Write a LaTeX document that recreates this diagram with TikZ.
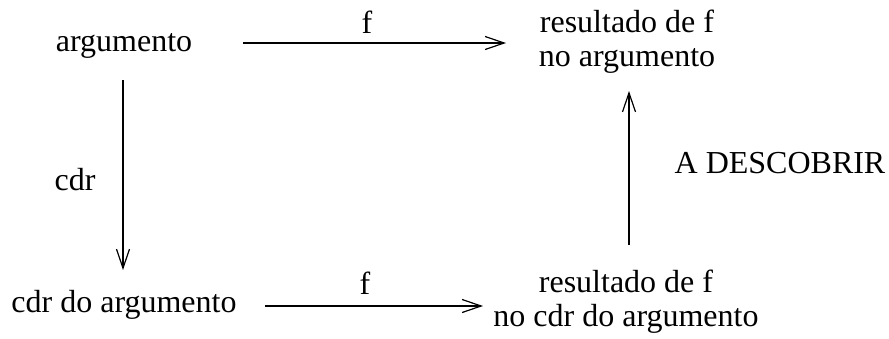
\documentclass[tikz,border=0pt]{standalone}
\usepackage{fontspec}
\setmainfont{Liberation Serif}
\usetikzlibrary{arrows.meta}
\begin{document}
\begin{tikzpicture}[x=1pt,y=-1pt,
  lbl/.style={font=\fontsize{32}{34}\selectfont, inner sep=0pt, align=center},
  arr/.style={line width=1.2pt, -{Straight Barb[length=19pt,width=13pt,line width=1.2pt]}}]
\useasboundingbox (0,0) rectangle (889,338);
\node[lbl] (a) at (124,46) {argumento};
\node[lbl] (ra) at (627,42) {resultado de f\\no argumento};
\node[lbl] (ca) at (124,305) {cdr do argumento};
\node[lbl] (rc) at (626,302) {resultado de f\\no cdr do argumento};
\node[lbl] (f1) at (367,22) {f};
\node[lbl] (f2) at (365,283) {f};
\node[lbl] (cdr) at (75,180) {cdr};
\node[lbl] (des) at (780,163) {A DESCOBRIR};
\coordinate (t1) at (243,43);
\coordinate (t2) at (506,43);
\coordinate (b1) at (265,306);
\coordinate (b2) at (483,306);
\coordinate (l1) at (123,80);
\coordinate (l2) at (123,270);
\coordinate (r1) at (629,245);
\coordinate (r2) at (629,91);
\draw[arr] (t1) -- (t2);
\draw[arr] (b1) -- (b2);
\draw[arr] (l1) -- (l2);
\draw[arr] (r1) -- (r2);
\end{tikzpicture}
\end{document}
